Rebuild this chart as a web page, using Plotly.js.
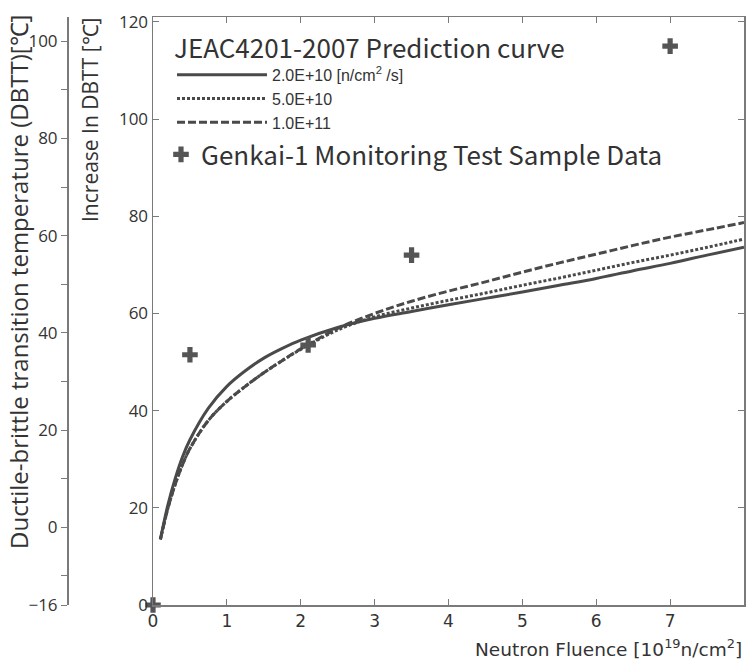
<!DOCTYPE html>
<html>
<head>
<meta charset="utf-8">
<script src="https://cdn.plot.ly/plotly-3.0.1.min.js"></script>
<style>html,body{margin:0;padding:0;background:#fff;}#chart{width:747px;height:662px;}</style>
</head>
<body>
<div id="chart"></div>
<script>
// Neutron fluence [10^19 n/cm^2]
const fluence = [0.1, 0.2, 0.3, 0.4, 0.5, 0.75, 1.0, 1.25, 1.5, 1.75, 2.0, 2.5, 3.0, 3.5, 4.0, 4.5, 5.0, 5.5, 6.0, 6.5, 7.0, 7.5, 8.0];
// Increase in DBTT [℃], prediction curves for three fluxes
const curve2e10 = [13.5, 20.5, 26.0, 30.5, 34.0, 40.5, 45.0, 48.2, 50.8, 52.8, 54.5, 57.1, 59.0, 60.4, 61.8, 63.1, 64.4, 65.8, 67.2, 68.8, 70.3, 72.0, 73.6];
const curve5e10 = [13.5, 19.8, 24.8, 28.9, 32.2, 38.0, 41.9, 45.0, 47.8, 50.3, 52.6, 56.6, 59.3, 61.1, 62.7, 64.2, 65.8, 67.3, 68.9, 70.5, 72.0, 73.6, 75.3];
const curve1e11 = [13.5, 19.8, 24.8, 28.9, 32.2, 38.0, 41.9, 45.0, 47.8, 50.3, 52.7, 56.9, 60.0, 62.5, 64.6, 66.5, 68.5, 70.4, 72.2, 74.0, 75.7, 77.2, 78.7];
// Genkai-1 monitoring test sample data
const sampleFluence = [0, 0.5, 2.1, 3.5, 7.0];
const sampleIncrease = [0, 51.5, 53.5, 72, 115];
// Tick labels
const xTicks = [0, 1, 2, 3, 4, 5, 6, 7];
const yTicks = [0, 20, 40, 60, 80, 100, 120];
const y2Ticks = [-16, 0, 20, 40, 60, 80, 100];
const y2Minor = [-10, 10, 30, 50, 70, 90];
const seriesNames = ['2.0E+10 [n/cm<sup>2</sup> /s]', '5.0E+10', '1.0E+11'];

const lineColor = '#4a4a4a';
const traces = [
  {x: fluence, y: curve2e10, mode: 'lines', name: seriesNames[0], legend: 'legend',
   line: {color: lineColor, width: 3, dash: 'solid', shape: 'spline', smoothing: 1}},
  {x: fluence, y: curve5e10, mode: 'lines', name: seriesNames[1], legend: 'legend',
   line: {color: lineColor, width: 3, dash: '3px,2px', shape: 'spline', smoothing: 1}},
  {x: fluence, y: curve1e11, mode: 'lines', name: seriesNames[2], legend: 'legend',
   line: {color: lineColor, width: 3, dash: '8px,3px', shape: 'spline', smoothing: 1}},
  {x: sampleFluence, y: sampleIncrease, mode: 'markers', name: 'Genkai-1 Monitoring Test Sample Data',
   legend: 'legend2', cliponaxis: false,
   marker: {symbol: 'cross', size: 13, color: '#555'}},
  {x: [], y: [], yaxis: 'y2', showlegend: false, mode: 'markers'}
];

const L = 10, R = 3, T = 17, B = 57;
const pw = 747 - L - R, ph = 662 - T - B;
const px = v => (v - L) / pw;
const py = v => 1 - (v - T) / ph;

const axisGray = '#7a7a7a';
const tickFont = {family: 'Open Sans, Liberation Sans, sans-serif', size: 17, color: '#333'};

const layout = {
  width: 747, height: 662,
  margin: {l: L, r: R, t: T, b: B, pad: 0},
  paper_bgcolor: '#fff', plot_bgcolor: '#fff',
  showlegend: true,
  xaxis: {
    domain: [px(153), 1], range: [0, 8],
    tickvals: xTicks, ticks: 'inside', ticklen: 6, tickcolor: axisGray,
    showline: true, linecolor: axisGray, linewidth: 1.5, mirror: 'ticks',
    showgrid: false, zeroline: false,
    tickfont: {family: 'DejaVu Sans, sans-serif', size: 17, color: '#333'}
  },
  yaxis: {
    range: [0, 121], tickvals: yTicks, ticks: 'inside', ticklen: 6, tickcolor: axisGray,
    showline: true, linecolor: axisGray, linewidth: 1.5, mirror: 'ticks',
    showgrid: false, zeroline: false, tickfont: tickFont
  },
  yaxis2: {
    overlaying: 'y', anchor: 'free', position: px(67), side: 'left',
    range: [-16, 105], tickvals: y2Ticks, ticks: 'outside', ticklen: 6, tickcolor: axisGray,
    showline: true, linecolor: axisGray, linewidth: 1.5,
    showgrid: false, zeroline: false, tickfont: tickFont,
    minor: {tickvals: y2Minor, ticks: 'outside', ticklen: 6, tickcolor: axisGray}
  },
  legend: {
    x: px(172), y: py(24), xanchor: 'left', yanchor: 'top',
    bgcolor: 'rgba(0,0,0,0)', borderwidth: 0,
    title: {text: 'JEAC4201-2007 Prediction curve', side: 'top',
            font: {family: 'Noto Sans CJK JP, sans-serif', size: 26, color: '#333'}},
    font: {family: 'Liberation Sans, Arial, sans-serif', size: 16, color: '#333'},
    itemwidth: 90, tracegroupgap: 0
  },
  legend2: {
    x: px(161), y: py(131), xanchor: 'left', yanchor: 'top',
    bgcolor: 'rgba(0,0,0,0)', borderwidth: 0, itemwidth: 30,
    font: {family: 'Noto Sans CJK JP, sans-serif', size: 26, color: '#333'}
  },
  annotations: [
    {text: 'Ductile-brittle transition temperature (DBTT)[℃]', textangle: -90,
     xref: 'paper', yref: 'paper', x: px(18), y: py(282), xanchor: 'center', yanchor: 'middle',
     showarrow: false, font: {family: 'Open Sans, sans-serif', size: 24, color: '#333'}},
    {text: 'Increase In DBTT [℃]', textangle: -90,
     xref: 'paper', yref: 'paper', x: px(90), y: py(120), xanchor: 'center', yanchor: 'middle',
     showarrow: false, font: {family: 'Open Sans, sans-serif', size: 21, color: '#333'}},
    {text: 'Neutron Fluence [10<sup>19</sup>n/cm<sup>2</sup>]',
     xref: 'paper', yref: 'paper', x: 1, y: py(648), xanchor: 'right', yanchor: 'middle',
     showarrow: false, font: {family: 'DejaVu Sans, sans-serif', size: 18.5, color: '#333'}}
  ]
};

Plotly.newPlot('chart', traces, layout, {displayModeBar: false, staticPlot: true});
</script>
</body>
</html>
